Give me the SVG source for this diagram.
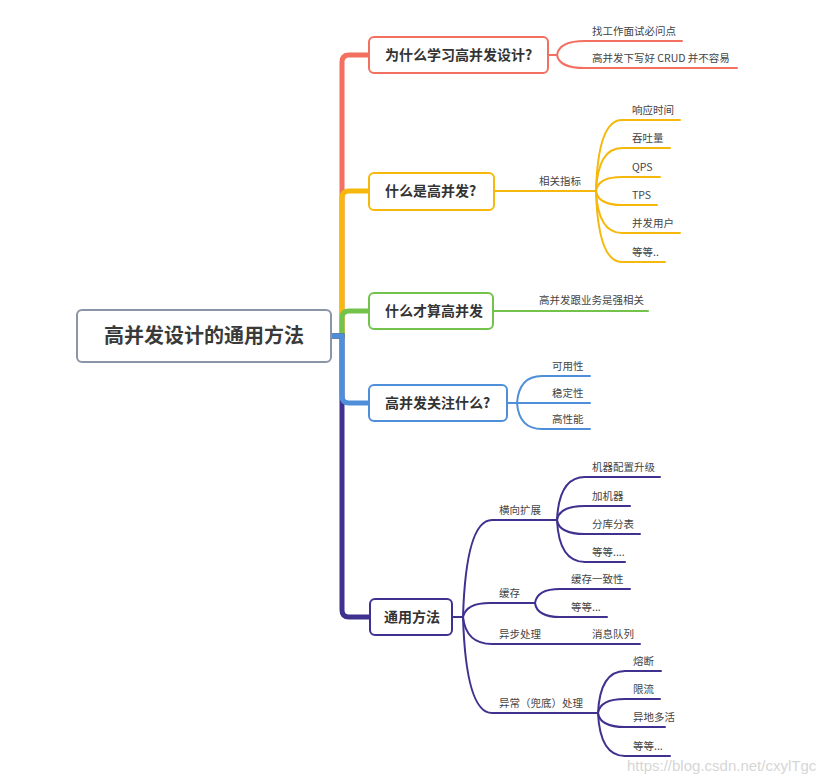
<svg xmlns="http://www.w3.org/2000/svg" width="835" height="783" viewBox="0 0 835 783">
<style>
.bg{fill:#fff}
.box{fill:#fff;stroke-width:2}
.t{font-family:"Noto Sans CJK SC","Noto Sans",sans-serif;font-size:10.5px;fill:#444}
.h{font-family:"Noto Sans CJK SC","Noto Sans",sans-serif;font-size:14px;font-weight:bold;fill:#333}
.root{font-family:"Noto Sans CJK SC","Noto Sans",sans-serif;font-size:20px;font-weight:bold;fill:#3a3a3a}
.ln{fill:none;stroke-width:2;stroke-linecap:round}
.tr{fill:none;stroke-width:5}
.red{stroke:#f36f5f}.yel{stroke:#f6b80c}.grn{stroke:#72c24c}.blu{stroke:#4f8ed8}.pur{stroke:#3e318f}
.wm{font-family:"Liberation Sans",Arial,sans-serif;font-size:15px;fill:#d6d6d6}
</style>
<rect class="bg" x="0" y="0" width="835" height="783"/>
<g id="connectors">
  <!-- trunk -->
  <path class="tr red" d="M331,336 H342 V62 Q342,55 349,55 H370"/>
  <path class="tr yel" d="M331,336 H342 V198 Q342,191 349,191 H370"/>
  <path class="tr grn" d="M331,336 H342 V318 Q342,311 349,311 H370"/>
  <path class="tr pur" d="M331,336 H342 V610 Q342,617 349,617 H371"/>
  <path class="tr blu" d="M331,336 H342 V396 Q342,403 349,403 H370"/>
  <!-- red leaves -->
  <path class="ln red" d="M548,55 H557 Q559,41 585,41 H682"/>
  <path class="ln red" d="M557,55 Q559,68 585,68 H737"/>
  <!-- yellow -->
  <path class="ln yel" d="M494,191 H596"/>
  <path class="ln yel" d="M596,191 Q598,120 622,120 H680"/>
  <path class="ln yel" d="M596,191 Q598,148 622,148 H670"/>
  <path class="ln yel" d="M596,191 Q598,177 622,177 H660"/>
  <path class="ln yel" d="M596,191 Q598,205 622,205 H657"/>
  <path class="ln yel" d="M596,191 Q598,233 622,233 H680"/>
  <path class="ln yel" d="M596,191 Q598,262 622,262 H665"/>
  <!-- green -->
  <path class="ln grn" d="M493,311 H648"/>
  <!-- blue -->
  <path class="ln blu" d="M507,403 H517"/>
  <path class="ln blu" d="M517,403 Q519,376 542,376 H590"/>
  <path class="ln blu" d="M517,403 H590"/>
  <path class="ln blu" d="M517,403 Q519,429 542,429 H590"/>
  <!-- purple -->
  <path class="ln pur" d="M452,617 H463"/>
  <path class="ln pur" d="M463,617 Q466,520 492,520 H557"/>
  <path class="ln pur" d="M557,520 Q559,477 585,477 H660"/>
  <path class="ln pur" d="M557,520 Q559,506 585,506 H630"/>
  <path class="ln pur" d="M557,520 Q559,534 585,534 H640"/>
  <path class="ln pur" d="M557,520 Q559,562 585,562 H625"/>
  <path class="ln pur" d="M463,617 Q466,603 490,603 H535"/>
  <path class="ln pur" d="M535,603 Q537,589 560,589 H630"/>
  <path class="ln pur" d="M535,603 Q537,617 560,617 H607"/>
  <path class="ln pur" d="M463,617 Q466,644 492,644 H640"/>
  <path class="ln pur" d="M463,617 Q466,713 492,713 H598"/>
  <path class="ln pur" d="M598,713 Q600,671 625,671 H661"/>
  <path class="ln pur" d="M598,713 Q600,699 625,699 H660"/>
  <path class="ln pur" d="M598,713 Q600,727 625,727 H665"/>
  <path class="ln pur" d="M598,713 Q600,756 625,756 H670"/>
</g>
<g id="root">
  <rect class="box" x="77" y="310" width="254" height="52" rx="5" stroke="#8a95a8"/>
  <text class="root" x="204" y="343" text-anchor="middle">高并发设计的通用方法</text>
</g>
<g id="n1">
  <rect class="box red" x="369" y="37" width="179" height="36" rx="5"/>
  <text class="h" x="385" y="60">为什么学习高并发设计?</text>
</g>
<g id="n1a"><text class="t" x="592" y="35">找工作面试必问点</text></g>
<g id="n1b"><text class="t" x="592" y="62">高并发下写好 CRUD 并不容易</text></g>
<g id="n2">
  <rect class="box yel" x="369" y="173" width="125" height="37" rx="5"/>
  <text class="h" x="385" y="196">什么是高并发?</text>
</g>
<g id="n2a"><text class="t" x="539" y="185">相关指标</text></g>
<g id="n2a1"><text class="t" x="632" y="114">响应时间</text></g>
<g id="n2a2"><text class="t" x="632" y="142">吞吐量</text></g>
<g id="n2a3"><text class="t" x="632" y="171">QPS</text></g>
<g id="n2a4"><text class="t" x="632" y="199">TPS</text></g>
<g id="n2a5"><text class="t" x="632" y="227">并发用户</text></g>
<g id="n2a6"><text class="t" x="632" y="256">等等..</text></g>
<g id="n3">
  <rect class="box grn" x="369" y="293" width="124" height="36" rx="5"/>
  <text class="h" x="385" y="316">什么才算高并发</text>
</g>
<g id="n3a"><text class="t" x="539" y="304">高并发跟业务是强相关</text></g>
<g id="n4">
  <rect class="box blu" x="369" y="385" width="138" height="36" rx="5"/>
  <text class="h" x="385" y="408">高并发关注什么?</text>
</g>
<g id="n4a"><text class="t" x="552" y="370">可用性</text></g>
<g id="n4b"><text class="t" x="552" y="397">稳定性</text></g>
<g id="n4c"><text class="t" x="552" y="423">高性能</text></g>
<g id="n5">
  <rect class="box pur" x="370" y="599" width="82" height="36" rx="5"/>
  <text class="h" x="384" y="622">通用方法</text>
</g>
<g id="n5a"><text class="t" x="499" y="514">横向扩展</text></g>
<g id="n5a1"><text class="t" x="592" y="471">机器配置升级</text></g>
<g id="n5a2"><text class="t" x="592" y="500">加机器</text></g>
<g id="n5a3"><text class="t" x="592" y="528">分库分表</text></g>
<g id="n5a4"><text class="t" x="592" y="556">等等....</text></g>
<g id="n5b"><text class="t" x="499" y="597">缓存</text></g>
<g id="n5b1"><text class="t" x="571" y="583">缓存一致性</text></g>
<g id="n5b2"><text class="t" x="571" y="611">等等...</text></g>
<g id="n5c"><text class="t" x="499" y="638">异步处理</text></g>
<g id="n5c1"><text class="t" x="592" y="638">消息队列</text></g>
<g id="n5d"><text class="t" x="499" y="707">异常（兜底）处理</text></g>
<g id="n5d1"><text class="t" x="633" y="665">熔断</text></g>
<g id="n5d2"><text class="t" x="633" y="693">限流</text></g>
<g id="n5d3"><text class="t" x="633" y="721">异地多活</text></g>
<g id="n5d4"><text class="t" x="633" y="750">等等...</text></g>
<text class="wm" x="627" y="771">https://blog.csdn.net/cxylTgc</text>
</svg>
